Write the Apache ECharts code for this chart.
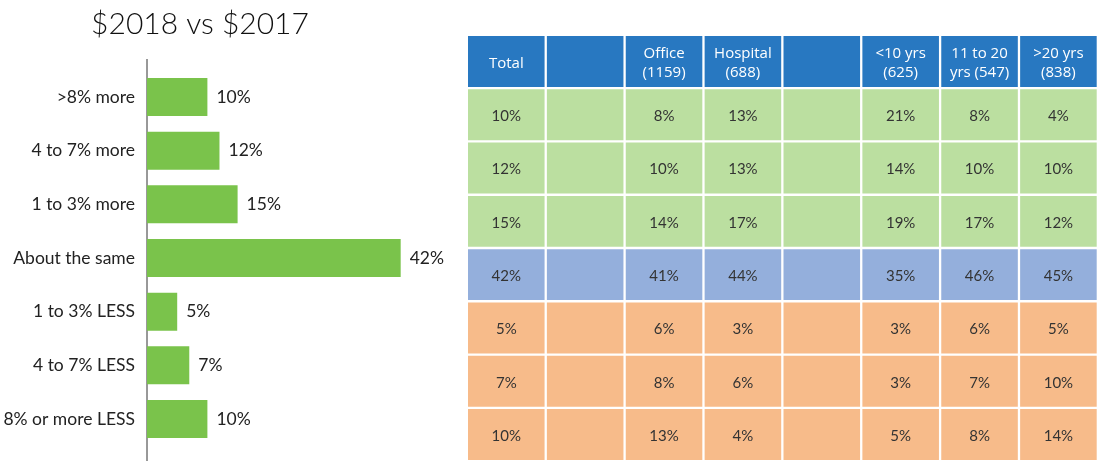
<!DOCTYPE html>
<html>
<head>
<meta charset="utf-8">
<script src="https://cdn.jsdelivr.net/npm/echarts@6/dist/echarts.min.js"></script>
<style>html,body{margin:0;padding:0;background:#fff}#main{width:1105px;height:469px}</style>
</head>
<body>
<div id="main"></div>
<script>
var chartTitle = '$2018 vs $2017';
var categories = ['>8% more', '4 to 7% more', '1 to 3% more', 'About the same', '1 to 3% LESS', '4 to 7% LESS', '8% or more LESS'];
var totalValues = [10, 12, 15, 42, 5, 7, 10];
var tableHeaders = ['Total', '', 'Office\n(1159)', 'Hospital\n(688)', '', '<10 yrs\n(625)', '11 to 20\nyrs (547)', '>20 yrs\n(838)'];
var officeValues = [8, 10, 14, 41, 6, 8, 13];
var hospitalValues = [13, 13, 17, 44, 3, 6, 4];
var lt10Values = [21, 14, 19, 35, 3, 3, 5];
var y11to20Values = [8, 10, 17, 46, 6, 7, 8];
var gt20Values = [4, 10, 12, 45, 5, 10, 14];

var tableColumns = [totalValues, null, officeValues, hospitalValues, null, lt10Values, y11to20Values, gt20Values];
var headerColor = '#2878C1';
function rowColor(r) { return r < 3 ? '#BBDFA0' : (r === 3 ? '#94AFDC' : '#F7BB8A'); }

var cells = [];
tableHeaders.forEach(function (h, c) {
  cells.push({ value: [c, 0], text: h, header: true, itemStyle: { color: headerColor } });
});
for (var r = 0; r < categories.length; r++) {
  for (var c = 0; c < tableColumns.length; c++) {
    var col = tableColumns[c];
    cells.push({ value: [c, r + 1], text: col ? col[r] + '%' : '', header: false, itemStyle: { color: rowColor(r) } });
  }
}

var chart = echarts.init(document.getElementById('main'));
var option = {
  animation: false,
  backgroundColor: '#fff',
  textStyle: { fontFamily: 'Lato' },
  graphic: [
    { type: 'text', x: 200, y: 24, style: { text: chartTitle, align: 'center', verticalAlign: 'middle', font: '300 30px Lato', fill: '#111' } },
    { type: 'line', shape: { x1: 147, y1: 59, x2: 147, y2: 461 }, style: { stroke: '#333', lineWidth: 1 } }
  ],
  grid: [
    { left: 147, top: 70.2, width: 302, height: 375.6 },
    { left: 468, top: 36, width: 631, height: 426.4 }
  ],
  xAxis: [
    { gridIndex: 0, type: 'value', min: 0, max: 50, show: false },
    { gridIndex: 1, type: 'category', data: tableHeaders.map(function (h, i) { return i; }), show: false }
  ],
  yAxis: [
    { gridIndex: 0, type: 'category', inverse: true, data: categories,
      axisLine: { show: false }, axisTick: { show: false },
      axisLabel: { margin: 12, fontSize: 17.5, color: '#222', fontFamily: 'Lato', padding: [0, 0, 6, 0] } },
    { gridIndex: 1, type: 'category', inverse: true, data: [0, 1, 2, 3, 4, 5, 6, 7], show: false }
  ],
  series: [
    {
      type: 'bar', xAxisIndex: 0, yAxisIndex: 0, data: totalValues, barWidth: 38,
      itemStyle: { color: '#7AC34B' },
      label: { show: true, position: 'right', distance: 9, formatter: '{c}%', fontSize: 17.5, color: '#222', fontFamily: 'Lato', padding: [0, 0, 3, 0] }
    },
    {
      type: 'custom', xAxisIndex: 1, yAxisIndex: 1, data: cells,
      renderItem: function (params, api) {
        var p = api.coord([api.value(0), api.value(1)]);
        var s = api.size([1, 1]);
        var w = s[0] - 2.3, h = s[1] - 2.4;
        var x0 = p[0] - s[0] / 2, y0 = p[1] - s[1] / 2;
        var cell = cells[params.dataIndex];
        return {
          type: 'group',
          children: [
            { type: 'rect', shape: { x: x0, y: y0, width: w, height: h }, style: { fill: api.visual('color') } },
            { type: 'text', style: {
                text: cell.text, x: x0 + w / 2, y: y0 + h / 2 + (cell.header ? 2 : 1.5),
                align: 'center', verticalAlign: 'middle',
                font: cell.header ? '500 15px "Open Sans"' : '15px Lato',
                lineHeight: 19,
                fill: cell.header ? '#fff' : '#333'
              } }
          ]
        };
      }
    }
  ]
};
chart.setOption(option);
</script>
</body>
</html>
